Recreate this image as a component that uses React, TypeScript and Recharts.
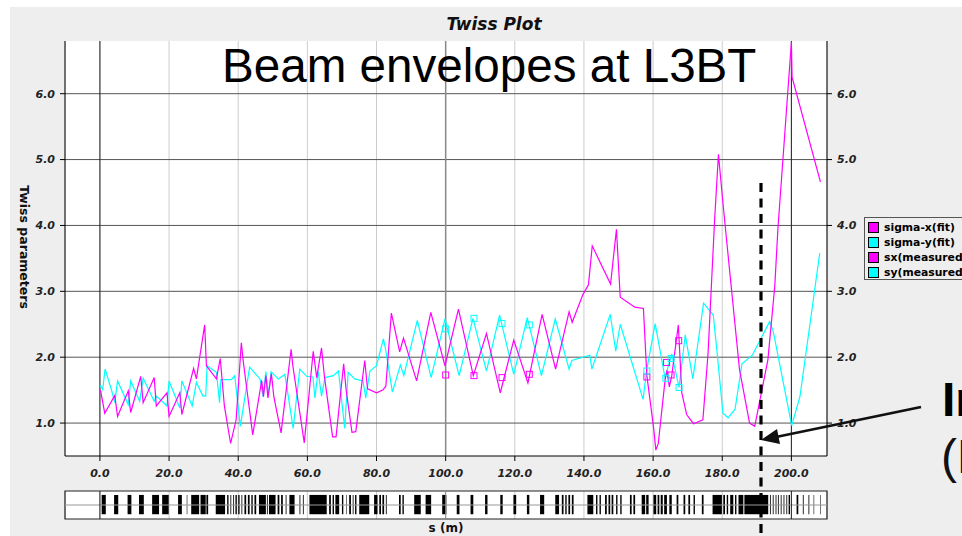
import React from 'react';
import {
  ComposedChart,
  Line,
  Scatter,
  XAxis,
  YAxis,
  CartesianGrid,
  ReferenceLine,
  ReferenceArea,
} from 'recharts';

// ---- data (s in m, value) ----
const sigmaX: [number, number][] = [
  [0.0, 1.5], [0.2, 1.49], [1.4, 1.15], [4.3, 1.42], [5.1, 1.1], [8.2, 1.49], [8.9, 1.16],
  [11.8, 1.71], [12.5, 1.31], [15.7, 1.69], [16.3, 1.26], [19.4, 1.46], [20.0, 1.1],
  [23.1, 1.46], [23.7, 1.13], [27.1, 1.83], [27.9, 1.67], [30.3, 2.49], [30.8, 1.87],
  [33.7, 1.67], [34.8, 1.98], [36.0, 1.26], [37.8, 0.69], [39.4, 1.05], [40.9, 2.22],
  [41.5, 1.92], [44.2, 0.82], [46.8, 1.65], [47.3, 1.4], [48.0, 1.72], [48.6, 1.38],
  [49.6, 1.75], [50.3, 1.4], [52.4, 0.85], [55.3, 2.12], [55.8, 1.87], [59.1, 0.7],
  [61.7, 2.09], [62.7, 1.69], [64.1, 2.14], [64.9, 1.72], [67.3, 0.79], [68.3, 0.79],
  [70.5, 1.9], [71.2, 1.51], [72.9, 0.86], [74.0, 0.87], [76.6, 1.95], [77.4, 1.52],
  [80.0, 1.46], [81.8, 1.5], [82.7, 1.56], [84.3, 2.67], [86.7, 2.08], [87.8, 2.29],
  [91.6, 1.64], [95.7, 2.68], [99.8, 1.87], [103.7, 2.73], [108.0, 1.72], [111.8, 2.36],
  [115.8, 1.46], [119.7, 2.26], [123.8, 1.61], [127.9, 2.65], [131.8, 1.82], [135.7, 2.69],
  [136.6, 2.53], [139.7, 2.95], [141.3, 3.1], [142.4, 3.69], [147.7, 3.11], [149.4, 3.94],
  [150.5, 2.91], [154.7, 2.76], [157.2, 2.74], [158.2, 1.72], [160.1, 0.95], [160.8, 0.59],
  [161.5, 0.69], [163.5, 1.67], [164.0, 1.8], [164.7, 1.55], [165.4, 1.72], [167.3, 2.49],
  [168.3, 1.46], [169.7, 1.13], [171.7, 0.99], [174.4, 1.05], [175.9, 2.06], [177.8, 4.09],
  [178.9, 5.08], [180.2, 4.34], [182.2, 3.28], [185.0, 1.81], [187.9, 1.0], [189.4, 0.95],
  [193.2, 1.96], [195.2, 3.08], [196.1, 3.95], [200.0, 6.78], [200.2, 6.25], [208.4, 4.66],
];

const sigmaY: [number, number][] = [
  [0.0, 1.57], [0.2, 1.56], [0.8, 1.51], [1.5, 1.82], [3.4, 1.49], [4.3, 1.31], [5.1, 1.64],
  [8.2, 1.28], [8.9, 1.64], [11.5, 1.33], [12.5, 1.68], [15.7, 1.33], [16.3, 1.41],
  [19.4, 1.26], [20.0, 1.64], [23.1, 1.23], [23.7, 1.64], [26.7, 1.26], [27.9, 1.62],
  [29.8, 1.41], [30.6, 1.41], [31.0, 1.87], [33.7, 1.77], [34.6, 1.31], [35.0, 1.66],
  [38.0, 1.66], [39.0, 1.72], [40.6, 0.95], [43.3, 1.85], [46.3, 1.67], [47.2, 1.4],
  [48.0, 1.78], [48.7, 1.42], [49.5, 1.78], [51.6, 1.67], [53.5, 1.74], [55.9, 0.92],
  [57.8, 1.82], [59.8, 1.71], [61.6, 1.7], [62.2, 1.38], [63.1, 1.79], [64.1, 1.41],
  [65.1, 1.69], [67.5, 1.72], [69.0, 1.79], [70.8, 0.92], [71.8, 1.77], [73.7, 1.67],
  [76.1, 1.64], [76.9, 1.38], [78.1, 1.79], [80.0, 1.87], [82.0, 2.28], [82.7, 2.1],
  [84.6, 1.47], [86.9, 1.88], [87.9, 1.72], [91.8, 2.56], [95.8, 1.69], [99.8, 2.58],
  [103.9, 1.72], [107.9, 2.59], [111.8, 1.79], [115.6, 2.64], [119.7, 1.74], [123.6, 2.6],
  [127.7, 1.72], [131.7, 2.58], [135.7, 1.82], [136.5, 1.95], [141.7, 2.03], [142.3, 1.82],
  [147.6, 2.65], [149.2, 2.09], [150.5, 2.5], [157.1, 1.36], [158.2, 1.82], [160.6, 2.51],
  [163.5, 1.67], [164.4, 1.87], [165.4, 2.05], [167.5, 1.54], [169.3, 2.34], [171.5, 1.67],
  [174.6, 2.82], [177.4, 2.64], [178.4, 2.13], [180.2, 1.15], [181.7, 1.08], [183.7, 1.21],
  [185.7, 1.9], [188.7, 2.03], [193.7, 2.54], [194.8, 2.38], [200.1, 0.96], [202.5, 1.41],
  [208.2, 3.58],
];

const sxMeasured: [number, number][] = [
  [100.0, 1.73], [108.2, 1.72], [116.3, 1.69], [124.2, 1.74],
  [158.2, 1.7], [163.9, 1.92], [165.2, 1.73], [167.4, 2.25],
];

const syMeasured: [number, number][] = [
  [100.0, 2.43], [108.2, 2.59], [116.3, 2.51], [124.2, 2.49],
  [158.2, 1.79], [163.7, 1.68], [165.2, 1.98], [167.5, 1.54],
];

// lattice elements: [start, end] in m
const latticeElements: [number, number][] = [
  [0.5, 1.7], [4.1, 5.3], [8.0, 9.1], [11.3, 12.7], [15.1, 17.1], [18.0, 19.9], [22.6, 23.7],
  [25.1, 25.3], [26.4, 28.7], [29.1, 30.6], [30.8, 31.3], [33.5, 36.2], [36.8, 37.2],
  [37.7, 38.0], [38.5, 38.8], [39.2, 39.6], [40.0, 40.4], [40.9, 41.2], [41.8, 42.3],
  [42.8, 43.3], [43.8, 44.2], [44.7, 45.2], [46.0, 48.0], [48.3, 48.6], [48.9, 50.8],
  [51.4, 51.9], [52.4, 52.9], [53.7, 54.0], [54.8, 56.3], [57.7, 58.0], [58.7, 59.0],
  [60.6, 65.6], [66.3, 66.8], [67.3, 67.7], [68.1, 69.2], [70.0, 70.4], [71.2, 71.4],
  [72.1, 72.6], [73.1, 73.4], [73.8, 74.2], [75.0, 77.9], [79.3, 80.3], [80.8, 81.3],
  [81.7, 82.2], [82.7, 83.0], [86.5, 87.0], [87.5, 87.9], [90.9, 92.8], [94.2, 95.8],
  [99.0, 100.2], [103.2, 104.0], [107.2, 108.0], [111.4, 112.1], [115.8, 116.5],
  [119.6, 120.4], [123.5, 124.2], [127.3, 128.5], [131.7, 132.8], [133.6, 134.1],
  [134.6, 135.0], [135.5, 136.0], [136.5, 137.0], [141.0, 142.7], [143.5, 143.9],
  [144.5, 144.9], [146.1, 146.6], [147.1, 147.6], [148.0, 148.5], [149.3, 149.7],
  [150.5, 150.9], [153.3, 153.8], [154.3, 154.8], [156.7, 157.7], [158.0, 158.7],
  [160.1, 160.9], [161.3, 161.8], [162.2, 162.8], [163.2, 164.0], [164.7, 165.4],
  [166.8, 167.3], [168.8, 169.3], [170.2, 170.7], [171.7, 172.1], [174.1, 174.6],
  [177.2, 179.9], [180.3, 180.8], [181.3, 181.7], [182.3, 183.2], [183.7, 184.1],
  [184.7, 186.1], [186.4, 193.3], [193.8, 194.1], [194.6, 194.9], [195.4, 195.7],
  [196.1, 196.4], [196.9, 197.2], [197.7, 198.0], [198.5, 198.8], [199.2, 199.6],
  [201.5, 202.0], [203.3, 203.6], [204.9, 205.2], [206.4, 206.6], [208.3, 208.5],
];

const xTicks = [0, 20, 40, 60, 80, 100, 120, 140, 160, 180, 200];
const yTicks = [1, 2, 3, 4, 5, 6];
const xDomain: [number, number] = [-10.1, 210.3];
const yDomain: [number, number] = [0.5, 6.8];

const seriesNames = ['sigma-x(fit)', 'sigma-y(fit)', 'sx(measured)', 'sy(measured)'];
const seriesColors = ['#ff00ff', '#00ffff', '#ff00ff', '#00ffff'];

const chartTitle = 'Twiss Plot';
const overlayTitle = 'Beam envelopes at L3BT';
const yLabel = 'Twiss parameters';
const xLabel = 's (m)';
const noteLine1 = 'In';
const noteLine2 = '(L';

const rows = (pts: [number, number][]) => pts.map(([s, v]) => ({ s, v }));

const tickStyle = {
  fontFamily: 'DejaVu Sans',
  fontSize: 11,
  fontStyle: 'italic',
  fontWeight: 'bold',
  fill: '#222',
};

const fmt = (v: number) => v.toFixed(1);

const squareShape = (color: string) => (props: any) => {
  const { cx, cy } = props;
  if (cx == null || cy == null) return null;
  return <rect x={cx - 3} y={cy - 3} width={6} height={6} fill="none" stroke={color} strokeWidth={1} />;
};

export default function App() {
  return (
    <div
      style={{
        position: 'absolute',
        left: 0,
        top: 0,
        width: 962,
        height: 536,
        overflow: 'hidden',
        background: '#ffffff',
        fontFamily: 'DejaVu Sans',
      }}
    >
      <div style={{ position: 'absolute', left: 10, top: 7, width: 952, height: 529, background: '#eeeeee' }} />

      {/* main plot */}
      <div style={{ position: 'absolute', left: 0, top: 0 }}>
        <ComposedChart width={962} height={536} margin={{ top: 41, right: 85, bottom: 50, left: 15 }}>
          <CartesianGrid fill="#ffffff" stroke="#cccccc" horizontal={false} />
          {yTicks.map((t) => (
            <ReferenceLine key={'h' + t} y={t} stroke="#555555" strokeWidth={1} />
          ))}
          <ReferenceLine x={0} stroke="#222222" />
          <ReferenceLine x={100} stroke="#8a8a8a" strokeWidth={1.5} />
          <ReferenceLine x={200} stroke="#222222" />
          <XAxis
            type="number"
            dataKey="s"
            domain={xDomain}
            ticks={xTicks}
            interval={0}
            allowDataOverflow
            tickFormatter={fmt}
            tick={tickStyle}
            tickSize={5}
            tickMargin={8}
            height={30}
            axisLine={{ stroke: '#000' }}
            tickLine={{ stroke: '#000' }}
          />
          <YAxis
            type="number"
            domain={yDomain}
            ticks={yTicks}
            interval={0}
            allowDataOverflow
            tickFormatter={fmt}
            tick={tickStyle}
            tickSize={5}
            tickMargin={5}
            width={50}
            axisLine={{ stroke: '#000' }}
            tickLine={{ stroke: '#000' }}
          />
          <YAxis
            yAxisId="right"
            orientation="right"
            type="number"
            domain={yDomain}
            ticks={yTicks}
            interval={0}
            allowDataOverflow
            tickFormatter={fmt}
            tick={tickStyle}
            tickSize={5}
            tickMargin={5}
            width={50}
            axisLine={{ stroke: '#000' }}
            tickLine={{ stroke: '#000' }}
          />
          <Line
            data={rows(sigmaY)}
            dataKey="v"
            name={seriesNames[1]}
            type="linear"
            stroke={seriesColors[1]}
            strokeWidth={1.2}
            dot={false}
            isAnimationActive={false}
          />
          <Line
            data={rows(sigmaX)}
            dataKey="v"
            name={seriesNames[0]}
            type="linear"
            stroke={seriesColors[0]}
            strokeWidth={1.2}
            dot={false}
            isAnimationActive={false}
          />
          <Scatter
            data={rows(sxMeasured)}
            dataKey="v"
            name={seriesNames[2]}
            shape={squareShape(seriesColors[2])}
            isAnimationActive={false}
          />
          <Scatter
            data={rows(syMeasured)}
            dataKey="v"
            name={seriesNames[3]}
            shape={squareShape(seriesColors[3])}
            isAnimationActive={false}
          />
        </ComposedChart>
      </div>

      {/* lattice strip */}
      <div style={{ position: 'absolute', left: 0, top: 0 }}>
        <ComposedChart width={962} height={536} margin={{ top: 491, right: 135, bottom: 17, left: 65 }}>
          <XAxis type="number" dataKey="s" domain={xDomain} ticks={xTicks} interval={0} allowDataOverflow hide />
          <YAxis type="number" domain={[0, 1]} allowDataOverflow hide />
          <CartesianGrid fill="#ffffff" stroke="#cccccc" horizontal={false} />
          <ReferenceLine y={0.5} stroke="#999999" />
          <ReferenceLine x={0} stroke="#222222" />
          <ReferenceLine x={100} stroke="#8a8a8a" />
          <ReferenceLine x={200} stroke="#222222" />
          {latticeElements.map(([a, b], i) => (
            <ReferenceArea
              key={'e' + i}
              x1={a}
              x2={b}
              y1={0.17}
              y2={0.86}
              fill={b - a < 0.35 ? '#333333' : '#000000'}
              fillOpacity={1}
              stroke="none"
              ifOverflow="visible"
            />
          ))}
          <ReferenceArea
            x1={xDomain[0]}
            x2={xDomain[1]}
            y1={0}
            y2={1}
            fill="none"
            fillOpacity={0}
            stroke="#222222"
            strokeWidth={1.2}
            ifOverflow="visible"
          />
        </ComposedChart>
      </div>

      {/* legend */}
      <div
        style={{
          position: 'absolute',
          left: 864,
          top: 217,
          width: 112,
          height: 63,
          border: '1px solid #555',
          boxSizing: 'border-box',
          background: '#eeeeee',
        }}
      >
        {seriesNames.map((n, i) => (
          <div
            key={n}
            style={{ position: 'absolute', left: 3, top: 3 + i * 15, height: 13, display: 'flex', alignItems: 'center', whiteSpace: 'nowrap' }}
          >
            <div style={{ width: 11, height: 11, background: seriesColors[i], border: '1px solid #000', boxSizing: 'border-box' }} />
            <span style={{ marginLeft: 5, fontSize: 10.8, fontWeight: 'bold', color: '#000', fontFamily: 'DejaVu Sans', lineHeight: '13px' }}>{n}</span>
          </div>
        ))}
      </div>

      {/* annotations */}
      <svg width={962} height={536} style={{ position: 'absolute', left: 0, top: 0, pointerEvents: 'none' }}>
        <text x={494} y={30} textAnchor="middle" fontFamily="DejaVu Sans" fontSize={17} fontWeight="bold" fontStyle="italic" fill="#111">
          {chartTitle}
        </text>
        <text x={222} y={81.5} fontFamily="Liberation Sans" fontSize={47.6} fill="#000">
          {overlayTitle}
        </text>
        <text
          x={20}
          y={247}
          textAnchor="middle"
          transform="rotate(90 20 247)"
          fontFamily="DejaVu Sans"
          fontSize={12.5}
          fontWeight="bold"
          fill="#111"
        >
          {yLabel}
        </text>
        <text x={446} y={532} textAnchor="middle" fontFamily="DejaVu Sans" fontSize={12} fontWeight="bold" fill="#111">
          {xLabel}
        </text>
        <line x1={761} y1={183} x2={761} y2={536} stroke="#000" strokeWidth={3.2} strokeDasharray="9 6.5" />
        <line x1={921} y1={407} x2={776} y2={437} stroke="#111" strokeWidth={2.8} />
        <polygon points="761,440 780,444 777,429" fill="#111" />
        <text x={942} y={416} fontFamily="Liberation Sans" fontSize={48} fontWeight="bold" fill="#000">
          {noteLine1}
        </text>
        <text x={941} y={473} fontFamily="Liberation Sans" fontSize={48} fill="#111">
          {noteLine2}
        </text>
      </svg>
    </div>
  );
}
